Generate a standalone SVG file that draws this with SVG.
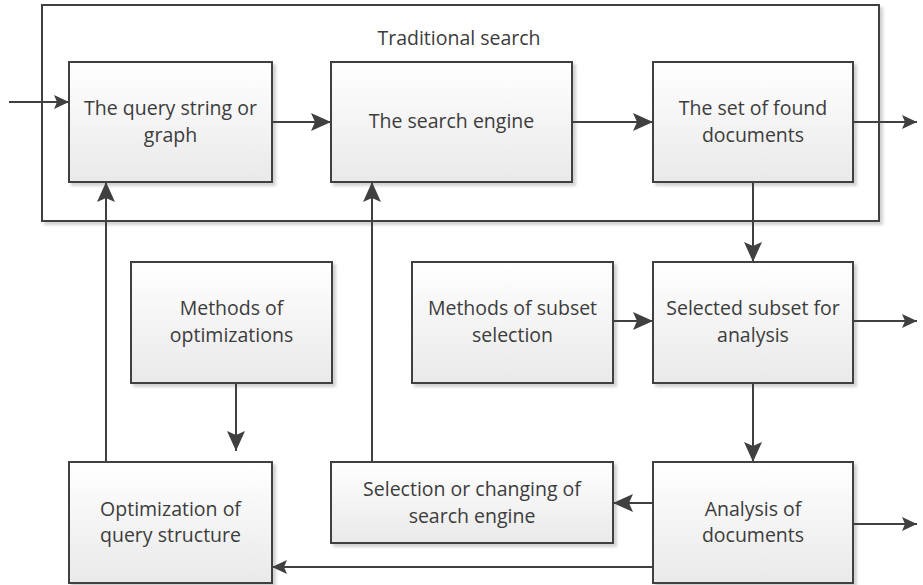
<svg xmlns="http://www.w3.org/2000/svg" width="923" height="585" viewBox="0 0 923 585">
<defs>
<linearGradient id="g" x1="0" y1="0" x2="0" y2="1">
<stop offset="0" stop-color="#ffffff"/>
<stop offset="1" stop-color="#e9e9e9"/>
</linearGradient>
<filter id="sh" x="-10%" y="-10%" width="130%" height="130%">
<feDropShadow dx="3" dy="3" stdDeviation="1.5" flood-color="#000" flood-opacity="0.18"/>
</filter>
<marker id="big" markerUnits="userSpaceOnUse" markerWidth="20" markerHeight="18" refX="20" refY="9" orient="auto">
<path d="M0,0 L20,9 L0,18 L4,9 Z" fill="#404040"/>
</marker>
<marker id="small" markerUnits="userSpaceOnUse" markerWidth="15" markerHeight="14" refX="15" refY="7" orient="auto">
<path d="M0,0 L15,7 L0,14 L3,7 Z" fill="#404040"/>
</marker>
<style>
.box{fill:url(#g);stroke:#404040;stroke-width:2;filter:url(#sh)}
.t{font-family:"Open Sans","Liberation Sans",Arial,sans-serif;font-size:19.5px;fill:#3c3c3c;text-anchor:middle}
.c{fill:none;stroke:#404040;stroke-width:2}
.b{marker-end:url(#big)}
.s{marker-end:url(#small)}
</style>
</defs>
<g id="traditional-search">
<rect x="42" y="5" width="837" height="216" fill="#fff" stroke="#404040" stroke-width="2" filter="url(#sh)"/>
<text class="t" x="459" y="45">Traditional search</text>
</g>
<g id="query">
<rect class="box" x="69" y="62" width="203" height="120"/>
<text class="t" x="170.5" y="115">The query string or</text>
<text class="t" x="170.5" y="142">graph</text>
</g>
<g id="engine">
<rect class="box" x="331" y="62" width="241" height="120"/>
<text class="t" x="451.5" y="128">The search engine</text>
</g>
<g id="found">
<rect class="box" x="653" y="62" width="200" height="120"/>
<text class="t" x="753" y="115">The set of found</text>
<text class="t" x="753" y="142">documents</text>
</g>
<g id="methods-opt">
<rect class="box" x="131" y="262" width="201" height="121"/>
<text class="t" x="231.5" y="315">Methods of</text>
<text class="t" x="231.5" y="342">optimizations</text>
</g>
<g id="methods-subset">
<rect class="box" x="412" y="262" width="201" height="121"/>
<text class="t" x="512.5" y="315">Methods of subset</text>
<text class="t" x="512.5" y="342">selection</text>
</g>
<g id="selected">
<rect class="box" x="653" y="262" width="200" height="121"/>
<text class="t" x="753" y="315">Selected subset for</text>
<text class="t" x="753" y="342">analysis</text>
</g>
<g id="opt-query">
<rect class="box" x="69" y="462" width="203" height="121"/>
<text class="t" x="170.5" y="516">Optimization of</text>
<text class="t" x="170.5" y="542">query structure</text>
</g>
<g id="selection-engine">
<rect class="box" x="331" y="462" width="282" height="81"/>
<text class="t" x="472" y="496">Selection or changing of</text>
<text class="t" x="472" y="523">search engine</text>
</g>
<g id="analysis">
<rect class="box" x="653" y="462" width="200" height="121"/>
<text class="t" x="753" y="516">Analysis of</text>
<text class="t" x="753" y="542">documents</text>
</g>
<g id="connectors">
<path class="c s" d="M9,102 H69"/>
<path class="c b" d="M272,122 H331"/>
<path class="c b" d="M572,122 H653"/>
<path class="c s" d="M853,122 H917"/>
<path class="c b" d="M753,182 V262"/>
<path class="c b" d="M613,321 H653"/>
<path class="c s" d="M853,321 H917"/>
<path class="c b" d="M753,383 V462"/>
<path class="c b" d="M236,383 V451"/>
<path class="c b" d="M106,462 V182"/>
<path class="c b" d="M372,462 V182"/>
<path class="c b" d="M653,503 H613"/>
<path class="c s" d="M853,524 H917"/>
<path class="c s" d="M653,567 H272"/>
</g>
</svg>
